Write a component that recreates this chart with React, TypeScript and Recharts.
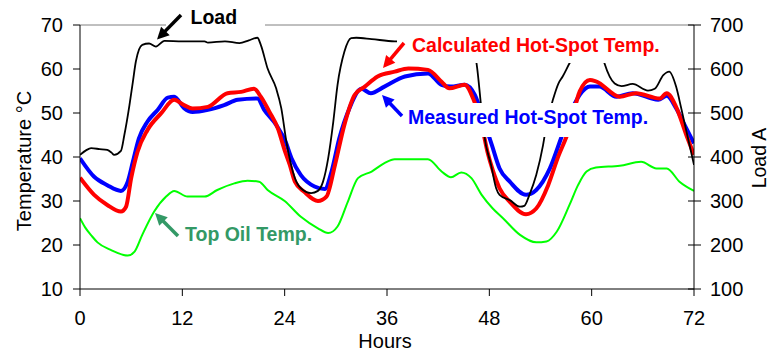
import React from "react";
import { LineChart, Line, XAxis, YAxis, ReferenceLine } from "recharts";

// ---- Data (hours / values) ----
const hourTicks = [0, 12, 24, 36, 48, 60, 72];
const tempTicks = [10, 20, 30, 40, 50, 60, 70];
const loadTicks = [100, 200, 300, 400, 500, 600, 700];

const loadHours = [0, 0.7, 1.3, 2.3, 3.2, 3.7, 4.0, 4.8, 5.2, 5.8, 6.2, 6.55, 7.3, 8.1, 8.9, 9.9, 12, 14.6, 15.0, 17.0, 18.7, 19.8, 20.8, 21.2, 22.0, 23.0, 23.6, 24.2, 25.2, 25.9, 27.1, 27.9, 28.5, 29.1, 29.7, 30.2, 31.0, 31.8, 32.4, 34.2, 36.9, 40, 44, 45.6, 46.1, 46.5, 47.1, 47.4, 48.2, 48.8, 49.2, 50.4, 51.6, 52.1, 52.7, 53.5, 54.3, 54.7, 55.5, 56.1, 56.6, 57.4, 58.2, 59.0, 60.0, 61.0, 61.5, 62.7, 63.5, 64.8, 66.6, 67.4, 68.4, 69.1, 69.9, 70.5, 71.3, 72];
const loadValues = [405, 415, 420, 418, 416, 410, 405, 414, 450, 518, 571, 617, 655, 658, 651, 664, 663, 663, 660, 663, 659, 665, 671, 655, 601, 556, 511, 435, 352, 329, 318, 323, 344, 397, 480, 564, 639, 670, 671, 668, 663, 665, 664, 664, 650, 613, 503, 450, 382, 329, 314, 302, 287, 289, 314, 359, 427, 473, 533, 567, 583, 613, 640, 660, 665, 648, 613, 567, 561, 566, 551, 555, 586, 594, 560, 511, 442, 382];

const measuredHours = [0, 1.66, 3.2, 4.8, 5.6, 6.2, 6.9, 7.9, 9.1, 10.3, 11.05, 12.2, 13.2, 15, 16.9, 18.5, 20.8, 21.6, 23, 24.1, 24.8, 25.9, 27.5, 28.7, 29.5, 30.4, 31.6, 33, 34.1, 35.7, 38.1, 40.8, 42.4, 43.5, 45.1, 46.3, 47.4, 48.3, 49.2, 50.4, 52.3, 53.5, 55.1, 56.4, 57.4, 58.6, 59.8, 60.9, 62.9, 64.8, 67.8, 68.8, 69.9, 71.1, 72];
const measuredValues = [39.7, 35.5, 33.6, 32.3, 34.4, 38.9, 44.2, 48, 50.7, 53.5, 53.7, 51.1, 50.2, 50.7, 51.8, 53, 53.3, 50.7, 47.3, 43.5, 39.7, 35.9, 33.3, 32.7, 36.7, 44.2, 51.1, 55.5, 54.5, 56, 58.3, 59, 56.4, 56, 56.4, 54.1, 48, 42.7, 37.4, 34.4, 31.4, 32.5, 37.4, 44.2, 49.5, 54.1, 56, 56, 53.7, 54.5, 53, 53.9, 51.1, 46.5, 43.1];

const calculatedHours = [0, 1.66, 3.2, 4.8, 5.4, 6.0, 6.75, 7.9, 9.5, 11.05, 12.2, 13.2, 15, 17.3, 18.9, 20.4, 21.2, 22.2, 23.2, 24.0, 24.6, 25.2, 26.3, 27.9, 28.9, 29.9, 31, 32.2, 33.4, 34.9, 36.9, 38.5, 40.8, 42.4, 43.3, 45.1, 46.1, 47.1, 47.8, 48.4, 49.2, 50.4, 52.3, 53.5, 54.9, 56, 57.4, 58.6, 59.8, 60.5, 63.3, 65.2, 68, 68.8, 69.9, 71.1, 72];
const calculatedValues = [35.3, 31.4, 29.1, 27.6, 28.7, 35.2, 41.2, 46.1, 49.9, 53, 51.8, 51.0, 51.4, 54.5, 54.8, 55.5, 53.7, 50.3, 46.5, 41.5, 38.2, 34.4, 32.1, 30, 31, 38.2, 47.3, 54.1, 56, 58.3, 59.4, 60.1, 59.8, 57.1, 55.6, 56.4, 53.3, 47.3, 41, 37, 32.9, 29.8, 27, 28.3, 33.6, 39.7, 46.5, 54.9, 57.5, 57.2, 53.7, 54.5, 53.3, 54.5, 51.4, 45, 40.5];

const topOilHours = [0, 0.6, 1.4, 2.05, 3.6, 5.6, 6.4, 7.3, 8.7, 10.1, 11.05, 12.6, 14.6, 16.1, 18.1, 19.65, 21, 22, 24, 25.9, 27.9, 29.1, 30.2, 31.4, 32.6, 34.2, 35.7, 36.9, 40.8, 42.4, 43.5, 44.7, 45.9, 47.1, 48.4, 49.6, 51.6, 53.5, 54.7, 55.9, 57.4, 58.4, 59.4, 60.5, 63.3, 65.8, 67.6, 68.8, 70.3, 72];
const topOilValues = [26.1, 24, 22, 20.6, 18.9, 17.6, 18.5, 22.3, 27.6, 31, 32.3, 31, 31, 32.5, 34, 34.6, 34.4, 32.5, 30, 26.4, 23.8, 22.7, 24.2, 29.8, 35.2, 36.7, 38.6, 39.5, 39.5, 36.7, 35.4, 36.5, 35.2, 31.4, 28.3, 26.1, 22.3, 20.6, 20.8, 23, 29.1, 33.6, 36.7, 37.6, 38, 38.9, 37.4, 37.4, 34.4, 32.3];

const toPoints = (hours: number[], values: number[]) =>
  hours.map((h, i) => ({ h, v: values[i] }));

const loadData = toPoints(loadHours, loadValues);
const measuredData = toPoints(measuredHours, measuredValues);
const calculatedData = toPoints(calculatedHours, calculatedValues);
const topOilData = toPoints(topOilHours, topOilValues);

const FONT = "'Liberation Sans', Arial, Helvetica, sans-serif";
const W = 770;
const H = 351;

const RightTick = (props: any) => {
  const { x, y, payload } = props;
  const axisX = x - 16;
  return (
    <g>
      <line x1={axisX - 6} x2={axisX} y1={y} y2={y} stroke="#000" strokeWidth={1} />
      <text x={x} y={y} dy="0.355em" textAnchor="start" fontSize={20} fontFamily={FONT} fill="#000">
        {payload.value}
      </text>
    </g>
  );
};

const Arrow = ({ x1, y1, x2, y2, color }: { x1: number; y1: number; x2: number; y2: number; color: string }) => {
  const dx = x2 - x1;
  const dy = y2 - y1;
  const len = Math.sqrt(dx * dx + dy * dy);
  const ux = dx / len;
  const uy = dy / len;
  const headLen = 12;
  const headW = 6;
  const bx = x2 - ux * headLen;
  const by = y2 - uy * headLen;
  const px = -uy;
  const py = ux;
  const pts = `${x2},${y2} ${bx + px * headW},${by + py * headW} ${bx - px * headW},${by - py * headW}`;
  return (
    <g>
      <line x1={x1} y1={y1} x2={bx + ux * 2} y2={by + uy * 2} stroke={color} strokeWidth={3.5} />
      <polygon points={pts} fill={color} />
    </g>
  );
};

export default function App() {
  const labelStyle = { fontFamily: FONT, fontWeight: 700 as const, fontSize: 19.5 };
  return (
    <div style={{ position: "absolute", left: 0, top: 0, width: W, height: H, background: "#fff" }}>
      <LineChart width={W} height={H} margin={{ top: 25, right: 0, bottom: 0, left: 0 }}>
        <XAxis
          type="number"
          dataKey="h"
          domain={[0, 72]}
          ticks={hourTicks}
          interval={0}
          height={62}
          tickSize={7}
          tickMargin={15}
          stroke="#000"
          tick={{ fill: "#000", fontSize: 20, fontFamily: FONT }}
          allowDataOverflow
        />
        <YAxis
          yAxisId="left"
          domain={[10, 70]}
          ticks={tempTicks}
          interval={0}
          width={80}
          tickSize={7}
          tickMargin={10}
          stroke="#000"
          tick={{ fill: "#000", fontSize: 20, fontFamily: FONT }}
        />
        <YAxis
          yAxisId="right"
          orientation="right"
          domain={[100, 700]}
          ticks={loadTicks}
          interval={0}
          width={76}
          tickSize={7}
          tickMargin={9}
          stroke="#000"
          tick={RightTick}
        />
        <ReferenceLine yAxisId="left" y={70} stroke="#808080" strokeWidth={1} />
        <Line yAxisId="left" data={topOilData} dataKey="v" type="monotone" stroke="#00FF00" strokeWidth={2} dot={false} isAnimationActive={false} />
        <Line yAxisId="left" data={measuredData} dataKey="v" type="monotone" stroke="#0000FF" strokeWidth={4} dot={false} isAnimationActive={false} />
        <Line yAxisId="left" data={calculatedData} dataKey="v" type="monotone" stroke="#FF0000" strokeWidth={4} dot={false} isAnimationActive={false} />
        <Line yAxisId="right" data={loadData} dataKey="v" type="monotone" stroke="#000000" strokeWidth={1.8} dot={false} isAnimationActive={false} />
      </LineChart>
      <svg width={W} height={H} style={{ position: "absolute", left: 0, top: 0, pointerEvents: "none" }}>
        <rect x={166} y={4} width={99} height={28} fill="#fff" />
        <rect x={397} y={27} width={282} height={36} fill="#fff" />
        <rect x={400} y={103} width={254} height={34} fill="#fff" />

        <Arrow x1={181} y1={15} x2={157} y2={39.5} color="#000" />
        <Arrow x1={404} y1={43} x2={383} y2={68} color="#FF0000" />
        <Arrow x1={402} y1={116} x2={382} y2={95} color="#0000FF" />
        <Arrow x1={178} y1={236} x2={155} y2={213} color="#339966" />

        <text x={190.5} y={24} fill="#000" style={labelStyle}>Load</text>
        <text x={412} y={51.5} fill="#FF0000" style={labelStyle}>Calculated Hot-Spot Temp.</text>
        <text x={408} y={123.5} fill="#0000FF" style={labelStyle}>Measured Hot-Spot Temp.</text>
        <text x={185} y={240.5} fill="#339966" style={labelStyle}>Top Oil Temp.</text>

        <text transform="translate(31,161) rotate(-90)" textAnchor="middle" fontSize={20} fontFamily={FONT} fill="#000">
          Temperature °C
        </text>
        <text transform="translate(766,158) rotate(-90)" textAnchor="middle" fontSize={19.5} fontFamily={FONT} fill="#000">
          Load A
        </text>
        <text x={385} y={348} textAnchor="middle" fontSize={20} fontFamily={FONT} fill="#000">
          Hours
        </text>
      </svg>
    </div>
  );
}
